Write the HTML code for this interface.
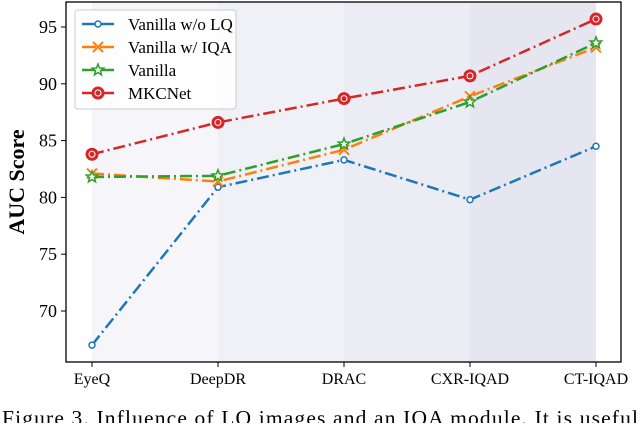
<!DOCTYPE html>
<html><head><meta charset="utf-8"><style>
body{margin:0;background:#fff;width:640px;height:423px;overflow:hidden;font-family:"Liberation Serif",serif}
</style></head><body>
<svg id="chart" width="640" height="423" xmlns="http://www.w3.org/2000/svg" font-family="Liberation Serif, serif"></svg>
<script>
const categories=["EyeQ","DeepDR","DRAC","CXR-IQAD","CT-IQAD"];
const seriesNames=["Vanilla w/o LQ","Vanilla w/ IQA","Vanilla","MKCNet"];
const woLQ=[67.0,80.9,83.3,79.8,84.5];
const wIQA=[82.1,81.4,84.2,88.9,93.2];
const vanilla=[81.8,81.9,84.7,88.4,93.6];
const mkcnet=[83.8,86.6,88.7,90.7,95.7];
const yTicks=[70,75,80,85,90,95];
const colors=["#1f77b4","#ff7f0e","#2ca02c","#d62728"];
const NS="http://www.w3.org/2000/svg";
const svg=document.getElementById('chart');
const L=66,R=621,T=2,B=362;
const x=i=>92+i*126;
const y=v=>27+(95-v)*11.36;
function mk(t,a){const e=document.createElementNS(NS,t);for(const k in a)e.setAttribute(k,a[k]);svg.appendChild(e);return e;}
const bandCols=["#f5f5fa","#f0f0f7","#ececf4","#e6e6f1"];
for(let i=0;i<4;i++){const r=mk('rect',{x:x(i),y:T,width:x(i+1)-x(i),height:B-T,fill:bandCols[i]});

}
const frame=mk('rect',{x:L,y:T,width:R-L,height:B-T,fill:'none',stroke:'#000','stroke-width':1.3});


yTicks.forEach(v=>{mk('line',{x1:L-5,x2:L,y1:y(v),y2:y(v),stroke:'#000'});
const t=mk('text',{x:L-9,y:y(v)+6,'text-anchor':'end','font-size':18});t.textContent=v;

});
categories.forEach((c,i)=>{mk('line',{x1:x(i),x2:x(i),y1:B,y2:B+5,stroke:'#000'});
const t=mk('text',{x:x(i),y:B+22,'text-anchor':'middle','font-size':16});t.textContent=c;

});
const yt=mk('text',{x:24,y:182,'text-anchor':'middle','font-size':22,'font-weight':'bold',transform:'rotate(-90 24 182)'});yt.textContent='AUC Score';


function marker(k,cx,cy){
 const c=colors[k];
 if(k===0){mk('circle',{cx,cy,r:3,fill:'#fff',stroke:c,'stroke-width':1.5});}
 else if(k===1){mk('path',{d:`M${cx-5} ${cy-5}L${cx+5} ${cy+5}M${cx-5} ${cy+5}L${cx+5} ${cy-5}`,stroke:c,'stroke-width':2});}
 else if(k===2){let p='';for(let j=0;j<10;j++){const rr=j%2?2.5:6,a=-Math.PI/2+j*Math.PI/5;p+=(j?'L':'M')+(cx+rr*Math.cos(a)).toFixed(1)+' '+(cy+rr*Math.sin(a)).toFixed(1);}mk('path',{d:p+'Z',fill:'#fff',stroke:c,'stroke-width':1.5});}
 else {mk('circle',{cx,cy,r:6,fill:c,stroke:c});mk('circle',{cx,cy,r:3,fill:'none',stroke:'#fff','stroke-width':1});}
}
[woLQ,wIQA,vanilla,mkcnet].forEach((s,k)=>{
 const pl=mk('polyline',{points:s.map((v,i)=>x(i)+','+y(v)).join(' '),fill:'none',stroke:colors[k],'stroke-width':2.5,'stroke-dasharray':'12 4 2 4'});
 
 
 s.forEach((v,i)=>marker(k,x(i),y(v)));
});
const lg=mk('rect',{x:75,y:10,width:161,height:99,fill:'#fff','fill-opacity':0.85,stroke:'#ccc',rx:3});


seriesNames.forEach((n,k)=>{const yy=24+k*23;
 mk('line',{x1:82,x2:114,y1:yy,y2:yy,stroke:colors[k],'stroke-width':2.5,'stroke-dasharray':'14 4 8 0'});
 marker(k,98,yy);
 const t=mk('text',{x:128,y:yy+6,'font-size':17});t.textContent=n;
 
 });
const cap=mk('text',{x:2,y:425,'font-size':21.5,textLength:636});cap.textContent='Figure 3. Influence of LQ images and an IQA module. It is useful';


</script>
</body></html>
